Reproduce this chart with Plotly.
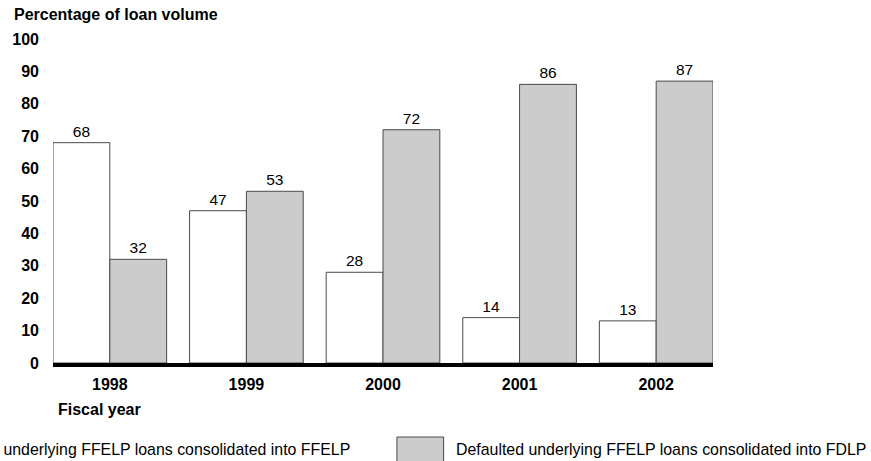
import plotly.graph_objects as go

# Data
years = ['1998', '1999', '2000', '2001', '2002']
ffelp = [68, 47, 28, 14, 13]
fdlp = [32, 53, 72, 86, 87]
y_ticks = list(range(0, 101, 10))

FONT = 'Liberation Sans, Arial, Helvetica, sans-serif'
W, H = 871, 461
L, R, T, B = 49, 158, 39, 98
PW = W - L - R
PH = H - T - B


def px_x(x):
    return (x - L) / PW


def px_y(y):
    return (H - B - y) / PH


fig = go.Figure()

fig.add_trace(go.Bar(
    x=years, y=ffelp,
    name='Defaulted underlying FFELP loans consolidated into FFELP',
    marker=dict(color='white', line=dict(color='#4a4a4a', width=1)),
    text=ffelp, textposition='outside', cliponaxis=False,
    textfont=dict(size=15.5, color='black', family=FONT),
))
fig.add_trace(go.Bar(
    x=years, y=fdlp,
    name='Defaulted underlying FFELP loans consolidated into FDLP',
    marker=dict(color='#cccccc', line=dict(color='#4a4a4a', width=1)),
    text=fdlp, textposition='outside', cliponaxis=False,
    textfont=dict(size=15.5, color='black', family=FONT),
))

fig.update_layout(
    width=W, height=H,
    margin=dict(l=L, r=R, t=T, b=B),
    barmode='group',
    bargap=0.168,
    bargroupgap=0,
    showlegend=False,
    plot_bgcolor='white',
    paper_bgcolor='white',
    font=dict(family=FONT, color='black'),
)

fig.update_xaxes(
    range=[-0.416, 4.416],
    showgrid=False,
    showline=True, linecolor='black', linewidth=4,
    ticks='', ticklabelstandoff=4,
    tickfont=dict(size=16, family=FONT, weight='bold'),
)
fig.update_yaxes(
    range=[0, 100],
    tickvals=y_ticks,
    showgrid=False, zeroline=False, showline=False,
    ticks='', ticklabelstandoff=13,
    tickfont=dict(size=16, family=FONT, weight='bold'),
)

# Titles
fig.add_annotation(
    text='<b>Percentage of loan volume</b>', xref='paper', yref='paper',
    x=px_x(8), y=px_y(15), xanchor='left', yanchor='middle',
    showarrow=False, font=dict(size=16, family=FONT),
)
fig.add_annotation(
    text='<b>Fiscal year</b>', xref='paper', yref='paper',
    x=px_x(52), y=px_y(409), xanchor='left', yanchor='middle',
    showarrow=False, font=dict(size=16, family=FONT),
)

# Legend drawn manually (first item runs off the left edge)
legend_y = 449
fig.add_shape(
    type='rect', xref='paper', yref='paper',
    x0=px_x(-135), x1=px_x(-88), y0=px_y(462), y1=px_y(437),
    fillcolor='white', line=dict(color='#4a4a4a', width=1),
)
fig.add_annotation(
    text='Defaulted underlying FFELP loans consolidated into FFELP',
    xref='paper', yref='paper',
    x=px_x(350), y=px_y(legend_y), xanchor='right', yanchor='middle',
    showarrow=False, font=dict(size=15.9, family=FONT),
)
fig.add_shape(
    type='rect', xref='paper', yref='paper',
    x0=px_x(395), x1=px_x(442), y0=px_y(462), y1=px_y(437),
    fillcolor='#cccccc', line=dict(color='#4a4a4a', width=1),
)
fig.add_annotation(
    text='Defaulted underlying FFELP loans consolidated into FDLP',
    xref='paper', yref='paper',
    x=px_x(452), y=px_y(legend_y), xanchor='left', yanchor='middle',
    showarrow=False, font=dict(size=15.9, family=FONT),
)

# drop the default body margin so the figure sits at the window's top-left
fig.write_html('out.html', config={'displayModeBar': False},
               post_script="document.body.style.margin='0';")
